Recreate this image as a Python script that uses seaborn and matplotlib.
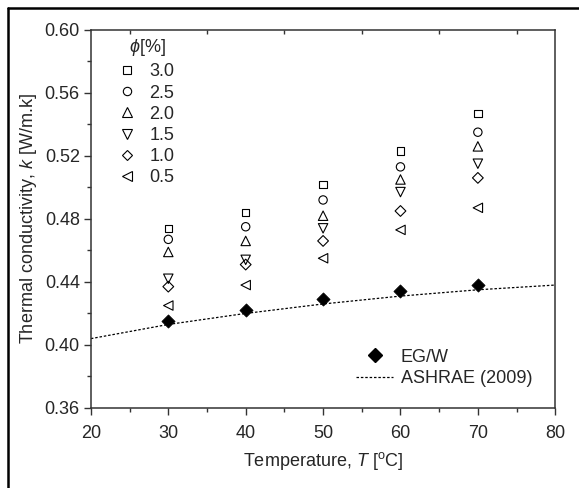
import pandas as pd
import seaborn as sns
import matplotlib.pyplot as plt
from matplotlib.lines import Line2D
from matplotlib.ticker import MultipleLocator, FixedLocator

temps = [30, 40, 50, 60, 70]
phi_labels = ["3.0", "2.5", "2.0", "1.5", "1.0", "0.5"]
# rows: phi 3.0 ... 0.5, columns: temps
k_phi = [
    [0.474, 0.484, 0.502, 0.523, 0.547],
    [0.467, 0.475, 0.492, 0.513, 0.535],
    [0.459, 0.466, 0.482, 0.505, 0.526],
    [0.442, 0.454, 0.474, 0.497, 0.515],
    [0.437, 0.451, 0.466, 0.485, 0.506],
    [0.425, 0.438, 0.455, 0.473, 0.487],
]
k_base = [0.415, 0.422, 0.429, 0.434, 0.438]
ashrae_t = [20, 30, 40, 50, 60, 70, 80]
ashrae_k = [0.404, 0.413, 0.420, 0.426, 0.431, 0.435, 0.438]
markers = ["s", "o", "^", "v", "D", "<"]
msizes = [28, 36, 46, 46, 30, 46]

sns.set_style("ticks")
plt.rcParams["font.family"] = ["Liberation Sans", "DejaVu Sans"]
plt.rcParams["mathtext.fontset"] = "custom"
plt.rcParams["mathtext.rm"] = "Liberation Sans"
plt.rcParams["mathtext.it"] = "Liberation Sans:italic"
FS = 13

fig = plt.figure(figsize=(5.79, 4.88), dpi=100)
ax = fig.add_axes([0.157, 0.164, 0.802, 0.775])

# nanofluid series
handles = []
for lab, m, sz, vals in zip(phi_labels, markers, msizes, k_phi):
    df = pd.DataFrame({"T": temps, "k": vals})
    sns.scatterplot(data=df, x="T", y="k", marker=m, s=sz, color="black",
                    facecolor="none", edgecolor="black", linewidth=0.8,
                    legend=False, ax=ax)
    handles.append(Line2D([], [], ls="", marker=m, ms=sz ** 0.5, mfc="none",
                          mec="black", mew=0.8, label=lab))

# base fluid and correlation
sns.scatterplot(x=temps, y=k_base, marker="D", s=45, color="black",
                edgecolor="black", legend=False, ax=ax)
sns.lineplot(x=ashrae_t, y=ashrae_k, color="black", lw=0.9, ls=(0, (2, 1.5)), ax=ax)

leg1 = ax.legend(handles=handles, loc="upper left",
                 bbox_to_anchor=(0.042, 0.93), frameon=False, fontsize=FS,
                 handlelength=1.0, handletextpad=0.75, labelspacing=0.23,
                 borderaxespad=0)
ax.add_artist(leg1)
ax.text(0.082, 0.952, r"$\phi$[%]", transform=ax.transAxes, fontsize=FS,
        ha="left", va="center")

h2 = [Line2D([], [], ls="", marker="D", ms=6.7, color="black"),
      Line2D([], [], color="black", lw=0.9, ls=(0, (2, 1.5)))]
ax.legend(h2, ["EG/W", "ASHRAE (2009)"], loc="lower right",
          bbox_to_anchor=(0.985, 0.012), frameon=False, fontsize=FS,
          handlelength=2.05, handletextpad=0.4, labelspacing=0.25)

ax.set_xlim(20, 80)
ax.set_ylim(0.36, 0.60)
ax.xaxis.set_major_locator(MultipleLocator(10))
ax.xaxis.set_minor_locator(MultipleLocator(5))
ax.yaxis.set_major_locator(MultipleLocator(0.04))
ax.yaxis.set_minor_locator(MultipleLocator(0.02))
ax.yaxis.set_major_formatter(plt.FormatStrFormatter("%.2f"))

for s in ax.spines.values():
    s.set_visible(True)
    s.set_color("#333333")
    s.set_linewidth(1.1)

ax.tick_params(axis="both", which="major", direction="out", length=5,
               width=1, color="#333333", labelsize=FS, pad=3)
ax.tick_params(axis="x", which="major", pad=7)
ax.tick_params(axis="both", which="minor", direction="out", length=3,
               width=1, color="#333333")

# small inward ticks along top at mid positions
top = ax.secondary_xaxis("top")
top.xaxis.set_major_locator(FixedLocator([25, 35, 45, 55, 65, 75]))
top.tick_params(direction="in", length=3, width=1, color="#333333", labeltop=False)
top.spines["top"].set_visible(False)

ax.set_xlabel(r"Temperature, $T$ [$^{\mathrm{o}}$C]", fontsize=FS, labelpad=6)
ax.set_ylabel(r"Thermal conductivity, $k$ [W/m.k]", fontsize=FS, labelpad=4)

# outer frame (cropped at right and bottom)
fig.add_artist(Line2D([0.014, 0.014], [0.0, 0.984], color="black", lw=1.8,
                      transform=fig.transFigure))
fig.add_artist(Line2D([0.014, 1.0], [0.984, 0.984], color="black", lw=1.8,
                      transform=fig.transFigure))

fig.savefig("out.png", dpi=100)
